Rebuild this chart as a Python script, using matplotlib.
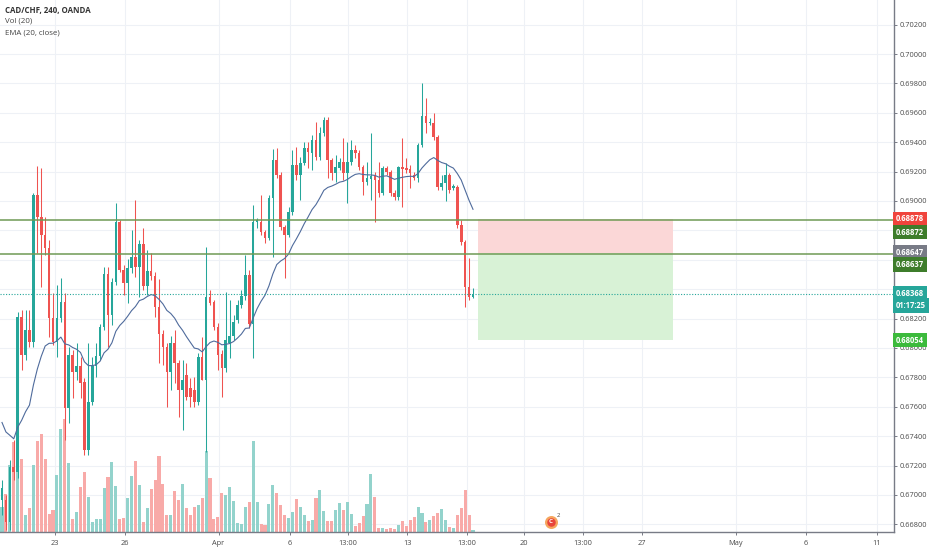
import matplotlib
matplotlib.use("Agg")
import matplotlib.pyplot as plt
import numpy as np
from matplotlib.transforms import Affine2D
from matplotlib.patches import Rectangle
from matplotlib.ticker import FuncFormatter

plt.rcParams['font.family'] = ['Open Sans', 'DejaVu Sans']

# ---------------- data ----------------
opens = [0.66966, 0.66966, 0.66816, 0.67190, 0.67156, 0.68210, 0.67952, 0.68122, 0.68040, 0.69041,
         0.68891, 0.68769, 0.68680, 0.68204, 0.68040, 0.68204, 0.68313, 0.67592, 0.67952, 0.67836,
         0.67877, 0.67768, 0.67306, 0.67633, 0.67877, 0.67945, 0.68143, 0.68503, 0.68224, 0.68449,
         0.68857, 0.68531, 0.68442, 0.68544, 0.68619, 0.68551, 0.68707, 0.68422, 0.68524, 0.68490,
         0.68279, 0.68095, 0.68006, 0.67836, 0.68034, 0.67897, 0.67714, 0.67816, 0.67728, 0.67714,
         0.67633, 0.67939, 0.67782, 0.68347, 0.68313, 0.68143, 0.67959, 0.67864, 0.68034, 0.68081,
         0.68190, 0.68292, 0.68354, 0.68496, 0.68163, 0.68857, 0.68857, 0.68789, 0.68748, 0.69020,
         0.69279, 0.69177, 0.68823, 0.68769, 0.68925, 0.69245, 0.69177, 0.69258, 0.69360, 0.69326,
         0.69415, 0.69299, 0.69462, 0.69551, 0.69279, 0.69190, 0.69224, 0.69265, 0.69190, 0.69265,
         0.69347, 0.69326, 0.69231, 0.69129, 0.69150, 0.69170, 0.69143, 0.69054, 0.69224, 0.69197,
         0.69054, 0.69027, 0.69231, 0.69224, 0.69217, 0.69177, 0.69156, 0.69381, 0.69578, 0.69530,
         0.69530, 0.69435, 0.69095, 0.69122, 0.69177, 0.69088, 0.69095, 0.68837, 0.68721, 0.68415,
         0.68347]
highs = [0.67102, 0.67000, 0.67238, 0.67374, 0.68245, 0.68258, 0.68258, 0.68258, 0.69054, 0.69238,
         0.69224, 0.68891, 0.68735, 0.68374, 0.68428, 0.68476, 0.68374, 0.68006, 0.67986, 0.68034,
         0.67939, 0.67796, 0.68034, 0.67939, 0.68034, 0.68163, 0.68551, 0.68551, 0.68476, 0.68986,
         0.68871, 0.68565, 0.68605, 0.68803, 0.69007, 0.68735, 0.68816, 0.68667, 0.68646, 0.68517,
         0.68469, 0.68122, 0.68034, 0.68081, 0.68122, 0.67918, 0.67918, 0.67897, 0.67796, 0.67803,
         0.67966, 0.68075, 0.68687, 0.68395, 0.68326, 0.68170, 0.67986, 0.68381, 0.68326, 0.68224,
         0.68326, 0.68395, 0.68632, 0.68531, 0.68973, 0.68884, 0.69041, 0.68803, 0.69041, 0.69354,
         0.69361, 0.69197, 0.68837, 0.68959, 0.69347, 0.69367, 0.69299, 0.69401, 0.69401, 0.69449,
         0.69537, 0.69503, 0.69571, 0.69571, 0.69292, 0.69313, 0.69292, 0.69428, 0.69401, 0.69415,
         0.69381, 0.69347, 0.69245, 0.69265, 0.69462, 0.69197, 0.69265, 0.69238, 0.69238, 0.69211,
         0.69075, 0.69238, 0.69428, 0.69292, 0.69245, 0.69197, 0.69394, 0.69803, 0.69700, 0.69565,
         0.69598, 0.69449, 0.69177, 0.69258, 0.69190, 0.69115, 0.69109, 0.68871, 0.68735, 0.68612,
         0.68408]
lows = [0.66864, 0.66762, 0.66762, 0.67102, 0.67115, 0.67850, 0.67918, 0.68006, 0.68006, 0.68646,
        0.68415, 0.68632, 0.68075, 0.68020, 0.67939, 0.68176, 0.67374, 0.67490, 0.67660, 0.67782,
        0.67660, 0.67272, 0.67272, 0.67612, 0.67802, 0.67918, 0.68122, 0.68006, 0.68156, 0.68428,
        0.68517, 0.68360, 0.68306, 0.68510, 0.68483, 0.68347, 0.68395, 0.68360, 0.68463, 0.68210,
        0.67897, 0.67884, 0.67598, 0.67714, 0.67761, 0.67530, 0.67442, 0.67646, 0.67598, 0.67598,
        0.67612, 0.67782, 0.67292, 0.68292, 0.68122, 0.67850, 0.67666, 0.67836, 0.67932, 0.68054,
        0.68170, 0.68272, 0.68326, 0.68136, 0.67932, 0.68816, 0.68769, 0.68714, 0.68735, 0.68619,
        0.69156, 0.68803, 0.68476, 0.68755, 0.68905, 0.69143, 0.69007, 0.69245, 0.69224, 0.69211,
        0.69279, 0.69279, 0.69442, 0.69156, 0.69143, 0.69129, 0.69211, 0.69143, 0.68986, 0.69245,
        0.69292, 0.69211, 0.69041, 0.69109, 0.69007, 0.68857, 0.69027, 0.69041, 0.69177, 0.69034,
        0.69007, 0.69007, 0.68959, 0.69190, 0.69088, 0.69143, 0.69129, 0.69367, 0.69462, 0.69517,
        0.69415, 0.69075, 0.69075, 0.69000, 0.69054, 0.69075, 0.68816, 0.68701, 0.68279, 0.68326,
        0.68340]
closes = [0.67048, 0.66816, 0.67190, 0.67156, 0.68210, 0.67952, 0.68122, 0.68040, 0.69041, 0.68891,
          0.68769, 0.68680, 0.68204, 0.68040, 0.68204, 0.68313, 0.67592, 0.67952, 0.67836, 0.67877,
          0.67762, 0.67306, 0.67633, 0.67877, 0.67945, 0.68143, 0.68503, 0.68224, 0.68449, 0.68857,
          0.68531, 0.68442, 0.68544, 0.68619, 0.68551, 0.68707, 0.68422, 0.68524, 0.68490, 0.68279,
          0.68095, 0.68006, 0.67836, 0.68034, 0.67897, 0.67714, 0.67782, 0.67666, 0.67666, 0.67633,
          0.67939, 0.67782, 0.68347, 0.68306, 0.68143, 0.67952, 0.67864, 0.68054, 0.68081, 0.68176,
          0.68292, 0.68354, 0.68496, 0.68163, 0.68857, 0.68871, 0.68789, 0.68748, 0.69020, 0.69279,
          0.69177, 0.68823, 0.68769, 0.68925, 0.69245, 0.69177, 0.69258, 0.69360, 0.69333, 0.69415,
          0.69299, 0.69462, 0.69551, 0.69279, 0.69190, 0.69231, 0.69265, 0.69190, 0.69265, 0.69347,
          0.69326, 0.69231, 0.69129, 0.69156, 0.69170, 0.69143, 0.69054, 0.69224, 0.69197, 0.69054,
          0.69027, 0.69231, 0.69217, 0.69211, 0.69190, 0.69156, 0.69381, 0.69578, 0.69530, 0.69537,
          0.69435, 0.69095, 0.69122, 0.69177, 0.69075, 0.69102, 0.68837, 0.68721, 0.68415, 0.68347,
          0.68368]
volumes = [75, 115, 200, 270, 190, 220, 50, 72, 200, 272,
           295, 218, 55, 65, 170, 310, 340, 208, 40, 60,
           135, 180, 105, 30, 40, 40, 132, 165, 210, 138,
           40, 42, 102, 168, 212, 142, 30, 72, 130, 155,
           228, 145, 52, 52, 122, 97, 143, 72, 52, 74,
           82, 102, 242, 162, 40, 45, 117, 110, 135, 92,
           27, 23, 75, 90, 272, 90, 25, 22, 85, 140,
           117, 80, 52, 42, 60, 100, 75, 50, 32, 35,
           102, 125, 62, 32, 32, 67, 87, 65, 90, 55,
           18, 27, 47, 85, 173, 105, 12, 12, 10, 12,
           10, 20, 32, 18, 37, 45, 75, 57, 30, 35,
           47, 57, 70, 35, 15, 12, 52, 72, 125, 52, 5]

ema_seed = 0.6754      # EMA value just before the first visible bar
ema_length = 20

price_ticks = [0.668, 0.670, 0.672, 0.674, 0.676, 0.678, 0.680, 0.682, 0.684,
               0.686, 0.688, 0.690, 0.692, 0.694, 0.696, 0.698, 0.700, 0.702]
# tick labels covered by the price tags in the reference
hidden_ticks = [0.684, 0.686, 0.688]
date_labels = ['23', '26', 'Apr', '6', '13:00', '13', '13:00', '20', '13:00',
               '27', 'May', '6', '11']
date_pos = [13.38, 31.34, 55.16, 73.25, 88.15, 103.3, 118.5, 133.0, 148.0,
            163.1, 187.0, 204.8, 222.9]

stop_price = 0.68878
entry_price = 0.68647
target_price = 0.68054
hline_upper = 0.68872
hline_lower = 0.68637
last_price = 0.68368
countdown = '01:17:25'
box_start, box_end = 121.3, 171.0

# ---------------- style ----------------
UP = '#26a69a'
DOWN = '#ef5350'
VOL_UP = '#93d3cc'
VOL_DOWN = '#f8aaa8'
GRID = '#eef1f6'
AXC = '#787b86'
TXT = '#4a4a4a'

o = np.array(opens); h = np.array(highs); l = np.array(lows); c = np.array(closes)
v = np.array(volumes)
x = np.arange(len(o))
up = c >= o
cols = np.where(up, UP, DOWN)
vcols = np.where(up, VOL_UP, VOL_DOWN)

fig = plt.figure(figsize=(9.32, 5.5), dpi=100)
fig.patch.set_facecolor('white')
ax = fig.add_axes([0, 18 / 550, 894 / 932, 532 / 550])
ax.set_facecolor('white')

ax.set_xlim(-0.51, 227.26)
ax.set_ylim(0.66748, 0.703674)

# grid / ticks
ax.set_yticks(price_ticks)
ax.set_xticks(date_pos)
ax.set_xticklabels(date_labels)


def fmt_price(val, pos):
    if any(abs(val - t) < 1e-7 for t in hidden_ticks):
        return ''
    return '%.5f' % val


ax.yaxis.set_major_formatter(FuncFormatter(fmt_price))
ax.grid(True, color=GRID, lw=0.8)
ax.set_axisbelow(True)

# volume (scaled into the lower part of the pane)
vol_trans = Affine2D().scale(1, 1 / 1596.0) + ax.get_xaxis_transform()
ax.bar(x, v, width=0.78, color=vcols, linewidth=0, transform=vol_trans, zorder=1)

# position tool
ax.add_patch(Rectangle((box_start, entry_price), box_end - box_start, stop_price - entry_price,
                       facecolor='#fbd7d7', edgecolor='none', zorder=1.5))
ax.add_patch(Rectangle((box_start, target_price), box_end - box_start, entry_price - target_price,
                       facecolor='#d8f2d6', edgecolor='none', zorder=1.5))

# candles
ax.vlines(x, l, h, colors=cols, lw=0.75, zorder=3)
body_bottom = np.minimum(o, c)
body_h = np.maximum(np.abs(c - o), 0.00007)
ax.bar(x, body_h, bottom=body_bottom, width=0.66, color=cols, linewidth=0, zorder=4)

# EMA
alpha = 2.0 / (ema_length + 1)
ema = []
prev = ema_seed
for cl in closes:
    prev = prev + alpha * (cl - prev)
    ema.append(prev)
ax.plot(x, ema, color='#4f6b9c', lw=0.8, zorder=5)

# horizontal lines
ax.axhline(hline_upper, color='#6f9a55', lw=1.1, zorder=6)
ax.axhline(hline_lower, color='#6f9a55', lw=1.1, zorder=6)
ax.axhline(last_price, color=UP, lw=0.8, ls=(0, (1, 1.5)), zorder=6)

# spines & ticks
for s in ['left', 'top']:
    ax.spines[s].set_visible(False)
for s in ['right', 'bottom']:
    ax.spines[s].set_color(AXC)
    ax.spines[s].set_linewidth(1.0)
ax.yaxis.tick_right()
ax.tick_params(axis='y', length=2.2, width=0.7, color=AXC, labelsize=5.3,
               labelcolor=TXT, pad=1.6)
ax.tick_params(axis='x', length=2.2, width=0.7, color=AXC, labelsize=5.3,
               labelcolor=TXT, pad=3.5)


# right-side price labels
def price_label(val, text, fc, dy=0.0):
    ax.annotate(text, xy=(1, val), xycoords=('axes fraction', 'data'),
                xytext=(1.3, dy), textcoords='offset points', ha='left', va='center',
                fontsize=5.5, color='white', fontweight='bold', annotation_clip=False,
                zorder=20,
                bbox=dict(boxstyle='square,pad=0.38', fc=fc, ec='none'))


price_label(stop_price, '%.5f' % stop_price, '#f0443c')
price_label(hline_upper, '%.5f' % hline_upper, '#3e7d2b', dy=-8.8)
price_label(entry_price, '%.5f' % entry_price, '#787b86')
price_label(hline_lower, '%.5f' % hline_lower, '#3e7d2b', dy=-7.6)
price_label(last_price, '%.5f' % last_price, UP)
price_label(last_price, countdown, UP, dy=-8.4)
price_label(target_price, '%.5f' % target_price, '#3cba3c')

# legend text (top-left)
fig.text(5 / 932, 1 - 11 / 550, 'CAD/CHF, 240, OANDA', fontsize=5.7, fontweight='bold',
         color='#333333', va='center', ha='left')
fig.text(5 / 932, 1 - 21.5 / 550, 'Vol (20)', fontsize=5.7, color='#444444',
         va='center', ha='left')
fig.text(5 / 932, 1 - 33 / 550, 'EMA (20, close)', fontsize=5.7, color='#444444',
         va='center', ha='left')

# events icon
ax.scatter([551 / 894], [(532 - 521.7) / 532], transform=ax.transAxes, s=60,
           facecolor='#e8453c', edgecolor='#f6a65e', linewidths=1.6, zorder=8, clip_on=False)
ax.text(551 / 894, (532 - 521.7) / 532, 'C', transform=ax.transAxes, fontsize=4.5,
        color='white', fontweight='bold', ha='center', va='center', zorder=9)
ax.text(558 / 894, (532 - 515.5) / 532, '2', transform=ax.transAxes, fontsize=4.2,
        color='#444444', ha='center', va='center', zorder=9)

fig.savefig('out.png', dpi=100, facecolor='white')
